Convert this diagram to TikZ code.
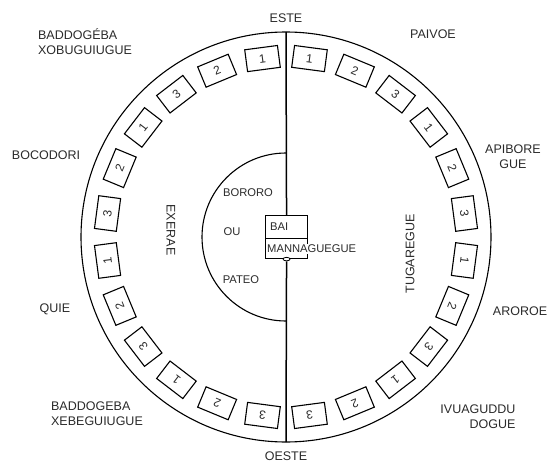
\documentclass[tikz,border=0pt]{standalone}
\usepackage{fontspec}
\setmainfont{Liberation Sans}
\usetikzlibrary{shapes.geometric,calc}
\definecolor{ink}{HTML}{2A2A2A}
\begin{document}
\begin{tikzpicture}[x=1pt,y=-1pt,
  ring/.style={line width=1.1pt},
  axis/.style={line width=1.5pt},
  cell/.style={draw, line width=1.1pt, fill=white, minimum width=33pt, minimum height=22pt, inner sep=0pt, font=\fontsize{12}{12}\selectfont, text=ink},
  lab/.style={font=\fontsize{12.5}{15}\selectfont, text=ink, inner sep=1pt},
  inlab/.style={font=\fontsize{11.2}{13}\selectfont, text=ink, inner sep=1pt}]
\useasboundingbox (0,0) rectangle (550,466);
\coordinate (C) at (286,237);
\coordinate (top) at (286,32);
\coordinate (bot) at (286,442);
\draw[ring] (C) circle[radius=205pt];
\draw[ring] ([shift={(90:84pt)}]C) arc[start angle=90, end angle=270, radius=84pt];
% hut
\node[draw, ring, fill=white, minimum width=42pt, minimum height=43pt, inner sep=0pt, anchor=north west] (hut) at (265,215) {};
\draw[axis] (top) -- (hut.north);
\node[draw, ellipse, line width=0.8pt, fill=white, minimum width=7pt, minimum height=3.5pt, inner sep=0pt] (door) at (hut.south) {};
\draw[axis] (door.south) -- (bot);
\draw[ring] ($(hut.north west)!0.53!(hut.south west)$) coordinate (dl) -- ($(hut.north east)!0.53!(hut.south east)$) coordinate (dr);
\node[inlab, anchor=west] (bai) at (269,227) {BAI};
\node[inlab, anchor=west, fill=white] (mann) at (266,249) {MANNAGUEGUE};
% cells
\foreach \k in {0,...,11} {
  \pgfmathsetmacro\a{7.5+15*\k}
  \pgfmathtruncatemacro\d{mod(\k,3)+1}
  \node[cell, rotate=-\a] (r\k) at ([shift={(90-\a:180pt)}]C) {\d};
  \node[cell, rotate=\a] (l\k) at ([shift={(90+\a:180pt)}]C) {\d};
}
% labels
\node[lab] (este) at (286,18) {ESTE};
\node[lab] (oeste) at (286,456) {OESTE};
\node[lab] (paivoe) at (433,34) {PAIVOE};
\node[lab, align=center] (apibore) at (513,157) {APIBORE\\GUE};
\node[lab] (aroroe) at (520,311) {AROROE};
\node[lab, align=right] (ivua) at (478,417) {IVUAGUDDU\\DOGUE};
\node[lab, align=left] (bxo) at (85,42) {BADDOGÉBA\\XOBUGUIUGUE};
\node[lab] (boco) at (46,155) {BOCODORI};
\node[lab] (quie) at (55,309) {QUIE};
\node[lab, align=left] (bxe) at (97,414) {BADDOGEBA\\XEBEGUIUGUE};
\node[lab, rotate=-90] (exerae) at (171,230) {EXERAE};
\node[lab, rotate=90] (tuga) at (410,254) {TUGAREGUE};
\node[inlab] (bororo) at (248,193) {BORORO};
\node[inlab] (ou) at (232,232) {OU};
\node[inlab] (pateo) at (241,280) {PATEO};
\end{tikzpicture}
\end{document}
